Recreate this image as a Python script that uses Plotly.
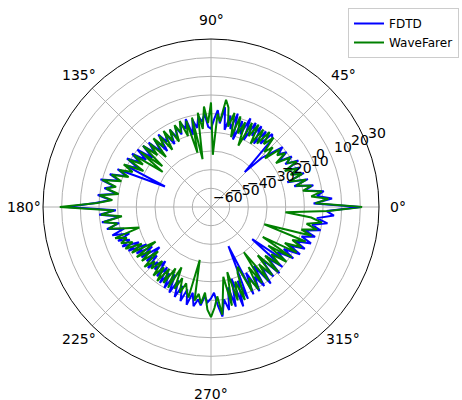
import math
import plotly.graph_objects as go

angles_deg = list(range(0, 360, 2))

fdtd_db = [
    20, -5, 5, -3, 1, -9, -4, -14, -6, -17,
    -7, -13, -8, -15, -7, -14, -9, -16, -10, -14,
    -10, -17, -22, -34, -11, -9, -17, -10, -19, -9,
    -16, -9, -20, -8, -18, -11, -22, -8, -17, -10,
    -18, -6, -15, -8, -13, -18, -17, -10, -14, -11,
    -17, -12, -20, -11, -16, -12, -18, -13, -19, -13,
    -21, -14, -18, -12, -22, -13, -20, -12, -18, -11,
    -19, -10, -17, -9, -15, -8, -16, -9, -33, -6,
    -12, -3, -9, 1, -7, -2, -9, 1, -6, 2,
    17, -9, 0, -11, -1, -10, -3, -12, -5, -14,
    -7, -13, -8, -17, -10, -20, -13, -22, -14, -25,
    -15, -21, -13, -19, -15, -22, -13, -20, -11, -18,
    -10, -19, -9, -17, -8, -15, -7, -14, -6, -13,
    -6, -10, -7, -12, -9, -11, -14, -7, -1, -10,
    -4, -16, -5, -20, -4, -18, -7, -37, -8, -20,
    -8, -16, -9, -21, -8, -18, -10, -22, -9, -19,
    -10, -32, -11, -17, -8, -15, -6, -13, -5, -11,
    -3, -9, -2, -8, 0, -5, 3, -3, 6, 2,
]

wavefarer_db = [
    21, -4, 3, -6, 0, -10, -5, -13, -7, -16,
    -8, -14, -9, -16, -8, -13, -10, -18, -11, -15,
    -12, -21, -14, -19, -10, -16, -9, -18, -10, -20,
    -9, -17, -10, -24, -11, -18, -9, -21, -8, -16,
    -6, -2, -14, -10, -32, -4, -15, -6, -18, -9,
    -34, -11, -30, -12, -20, -11, -17, -12, -21, -13,
    -19, -12, -23, -13, -19, -12, -24, -13, -20, -11,
    -26, -12, -28, -10, -17, -9, -19, -8, -14, -7,
    -13, -4, -10, 0, -8, -3, -10, 0, -7, 1,
    21, -8, -1, -12, -2, -9, -4, -13, -20, -6,
    -12, -8, -14, -9, -18, -11, -25, -12, -20, -13,
    -23, -12, -18, -14, -21, -12, -19, -11, -20, -12,
    -22, -11, -24, -12, -19, -11, -17, -13, -10, -31,
    -9, -13, -8, -14, -5, -1, -6, -12, -2, -14,
    -22, -6, -24, -8, -18, -7, -22, -25, -10, -17,
    -9, -22, -11, -30, -10, -20, -11, -24, -10, -21,
    -12, -19, -10, -23, -9, -28, -8, -16, -7, -13,
    -6, -30, -4, -10, -2, -8, 0, -6, -20, 3,
]

angle_ticks = [0, 45, 90, 135, 180, 225, 270, 315]
angle_labels = ["0°", "45°", "90°", "135°", "180°", "225°", "270°", "315°"]
r_ticks = [-60, -50, -40, -30, -20, -10, 0, 10, 20, 30]
series_names = ["FDTD", "WaveFarer"]
series_colors = ["#0000ff", "#008000"]

W, H = 462, 400
CX, CY_TOP, R = 211, 207, 168
CY = H - CY_TOP
R_MIN, R_MAX = r_ticks[0], r_ticks[-1]
R_LABEL_ANGLE = 22.5
THETA_LABEL_R = 187

theta_closed = angles_deg + [360]
fig = go.Figure()
for name, vals, col in zip(series_names, [fdtd_db, wavefarer_db], series_colors):
    fig.add_trace(go.Scatterpolar(
        r=vals + [vals[0]], theta=theta_closed, mode="lines", name=name,
        line=dict(color=col, width=2),
    ))

font = dict(family="DejaVu Sans", size=14, color="black")
annotations = []
for a, lab in zip(angle_ticks, angle_labels):
    t = math.radians(a)
    annotations.append(dict(
        x=(CX + THETA_LABEL_R * math.cos(t)) / W, y=(CY + THETA_LABEL_R * math.sin(t)) / H,
        xref="paper", yref="paper", text=lab, showarrow=False,
        xanchor="center", yanchor="middle", font=font,
    ))
ta = math.radians(R_LABEL_ANGLE)
for v in r_ticks:
    rr = (v - R_MIN) / (R_MAX - R_MIN) * R
    annotations.append(dict(
        x=(CX + rr * math.cos(ta)) / W, y=(CY + rr * math.sin(ta)) / H,
        xref="paper", yref="paper", text=str(v).replace("-", "\u2212"),
        showarrow=False, xanchor="left", yanchor="bottom", font=font,
    ))

fig.update_layout(
    width=W, height=H,
    margin=dict(l=0, r=0, t=0, b=0),
    paper_bgcolor="white",
    font=font,
    annotations=annotations,
    polar=dict(
        domain=dict(x=[(CX - R) / W, (CX + R) / W], y=[(CY - R) / H, (CY + R) / H]),
        bgcolor="white",
        angularaxis=dict(
            tickmode="array", tickvals=angle_ticks,
            direction="counterclockwise", rotation=0,
            showline=True, linecolor="black", linewidth=1,
            gridcolor="#b0b0b0", gridwidth=1, ticks="",
            showticklabels=False,
        ),
        radialaxis=dict(
            range=[R_MIN, R_MAX], tickmode="array", tickvals=r_ticks,
            angle=R_LABEL_ANGLE, showline=False, ticks="",
            gridcolor="#b0b0b0", gridwidth=1, showticklabels=False,
        ),
    ),
    legend=dict(
        x=348 / W, y=1 - 8 / H, xanchor="left", yanchor="top",
        bgcolor="white", bordercolor="#cccccc", borderwidth=1,
        font=dict(family="DejaVu Sans", size=12, color="black"), itemwidth=30,
    ),
)

fig.write_html("out.html", config={"displayModeBar": False},
               post_script="document.body.style.margin='0';")
